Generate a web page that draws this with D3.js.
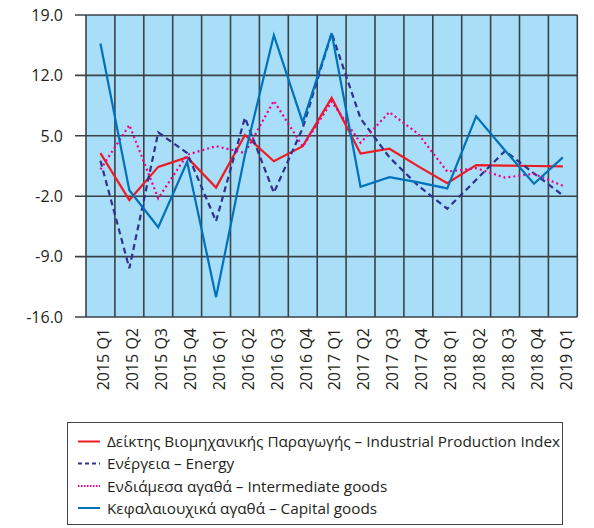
<!DOCTYPE html>
<html>
<head>
<meta charset="utf-8">
<script src="https://cdn.jsdelivr.net/npm/d3@7"></script>
<style>
  html, body { margin: 0; padding: 0; background: #fff; }
  svg { display: block; }
  text { font-family: "Open Sans", "Noto Sans", sans-serif; fill: #231f20; }
</style>
</head>
<body>
<svg id="chart" width="594" height="528"></svg>
<script>
const categories = ["2015 Q1","2015 Q2","2015 Q3","2015 Q4","2016 Q1","2016 Q2","2016 Q3","2016 Q4",
  "2017 Q1","2017 Q2","2017 Q3","2017 Q4","2018 Q1","2018 Q2","2018 Q3","2018 Q4","2019 Q1"];
const yTicks = [19.0, 12.0, 5.0, -2.0, -9.0, -16.0];

const industrialProduction = [3.0, -2.45, 1.4, 2.5, -1.0, 5.1, 2.05, 3.8, 9.4, 2.95, 3.5, 1.45, -0.5, 1.6, 1.55, 1.5, 1.45];
const energy = [2.1, -10.35, 5.4, 3.0, -4.9, 7.1, -1.6, 5.9, 16.9, 7.0, 2.5, -0.8, -3.45, -0.1, 3.25, 0.65, -1.9];
const intermediateGoods = [1.1, 6.25, -2.25, 2.8, 3.8, 3.0, 9.05, 3.75, 8.95, 4.2, 7.75, 5.2, 0.85, 1.25, 0.15, 0.6, -0.8];
const capitalGoods = [15.7, -1.3, -5.6, 2.0, -13.7, 2.8, 16.65, 6.55, 16.9, -0.9, 0.2, -0.4, -1.1, 7.25, 3.3, -0.55, 2.5];

const seriesNames = [
  "Δείκτης Βιομηχανικής Παραγωγής – Industrial Production Index",
  "Ενέργεια – Energy",
  "Ενδιάμεσα αγαθά – Intermediate goods",
  "Κεφαλαιουχικά αγαθά – Capital goods"
];

const series = [
  { name: seriesNames[0], values: industrialProduction, color: "#ed1c24", dash: null },
  { name: seriesNames[1], values: energy, color: "#2e3192", dash: "6,4" },
  { name: seriesNames[2], values: intermediateGoods, color: "#ec008c", dash: "2,3" },
  { name: seriesNames[3], values: capitalGoods, color: "#0072bc", dash: null }
];

const svg = d3.select("#chart");
const plotLeft = 86, plotRight = 577.3, plotTop = 15, plotBottom = 317;

const x = d3.scaleBand().domain(categories).range([plotLeft, plotRight]).paddingInner(0).paddingOuter(0);
const y = d3.scaleLinear().domain([-16, 19]).range([plotBottom, plotTop]);

// background
svg.append("rect").attr("x", plotLeft).attr("y", plotTop).attr("width", plotRight - plotLeft).attr("height", plotBottom - plotTop)
  .attr("fill", "#a9def8");

const gridColor = "#3a4248";
// horizontal gridlines
svg.append("g").selectAll("line").data(yTicks).join("line")
  .attr("x1", plotLeft - 11).attr("x2", plotRight)
  .attr("y1", d => y(d)).attr("y2", d => y(d))
  .attr("stroke", gridColor).attr("stroke-width", 1.6);

// vertical gridlines at category boundaries
const bounds = categories.map(c => x(c)).concat([plotRight]);
svg.append("g").selectAll("line").data(bounds).join("line")
  .attr("x1", d => d).attr("x2", d => d)
  .attr("y1", plotTop).attr("y2", plotBottom)
  .attr("stroke", gridColor).attr("stroke-width", 1.6);

// y tick labels
svg.append("g").selectAll("text").data(yTicks).join("text")
  .attr("x", 63).attr("y", d => y(d)).attr("dy", "0.36em")
  .attr("text-anchor", "end").attr("font-size", 16)
  .text(d => d.toFixed(1));

// x labels
svg.append("g").selectAll("text").data(categories).join("text")
  .attr("transform", d => `translate(${x(d) + x.bandwidth() / 2 + 3},${328}) rotate(-90)`)
  .attr("dy", "0.36em")
  .attr("text-anchor", "end").attr("font-size", 16)
  .text(d => d);

// lines
const line = d3.line()
  .x((d, i) => x(categories[i]) + x.bandwidth() / 2)
  .y(d => y(d));

svg.append("g").selectAll("path").data(series).join("path")
  .attr("d", d => line(d.values))
  .attr("fill", "none")
  .attr("stroke", d => d.color)
  .attr("stroke-width", 2.2)
  .attr("stroke-dasharray", d => d.dash)
  .attr("stroke-linejoin", "miter");

// legend
const lg = svg.append("g");
lg.append("rect").attr("x", 67.5).attr("y", 422.5).attr("width", 495).attr("height", 102)
  .attr("fill", "#fff").attr("stroke", "#444").attr("stroke-width", 1);
const rowY = [441.5, 463.5, 486, 508];
const items = lg.selectAll("g.item").data(series).join("g").attr("class", "item")
  .attr("transform", (d, i) => `translate(0,${rowY[i]})`);
items.append("line").attr("x1", 78).attr("x2", 100).attr("y1", 0).attr("y2", 0)
  .attr("stroke", d => d.color).attr("stroke-width", 2)
  .attr("stroke-dasharray", d => d.dash ? (d.dash === "6,4" ? "4,3" : "1.5,1.5") : null);
items.append("text").attr("x", 107).attr("y", 0).attr("dy", "0.36em")
  .attr("font-size", 15.3).text(d => d.name);
</script>
</body>
</html>
